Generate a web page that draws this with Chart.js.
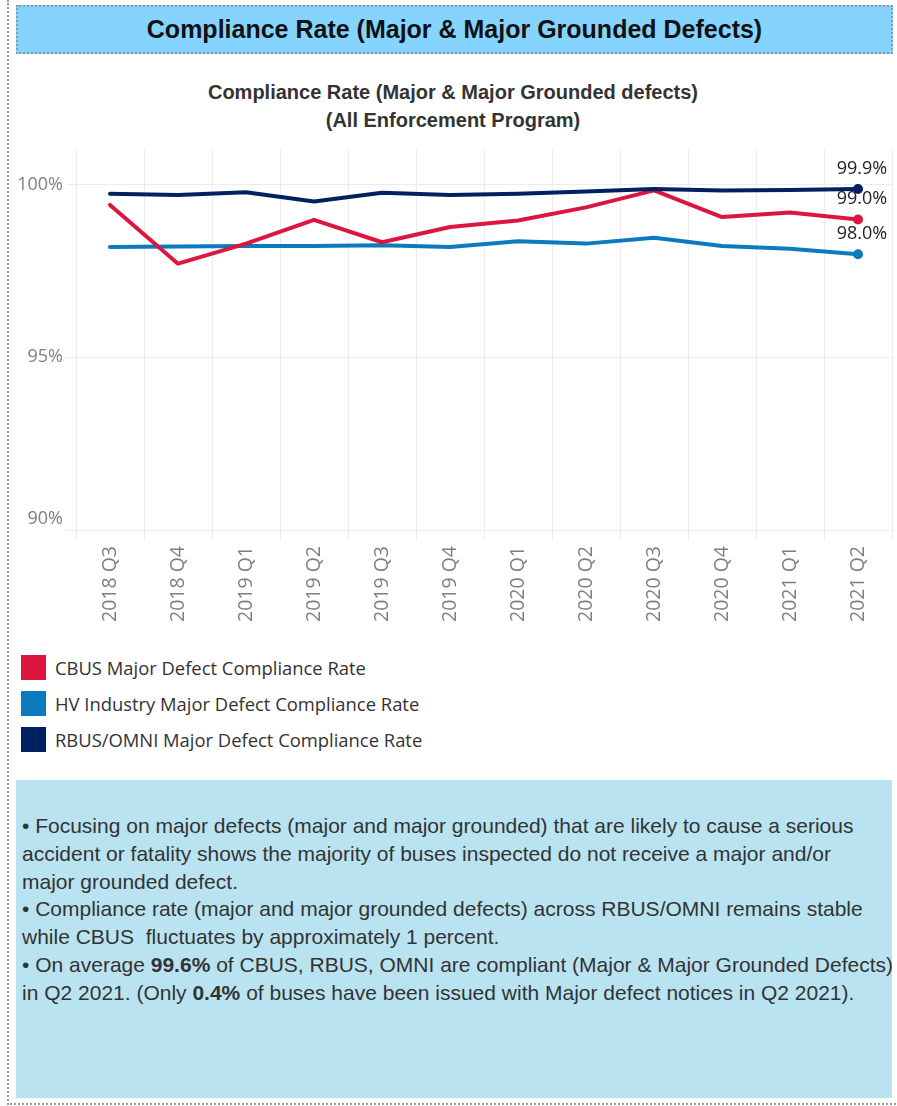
<!DOCTYPE html>
<html>
<head>
<meta charset="utf-8">
<script src="https://cdn.jsdelivr.net/npm/chart.js@4"></script>
<style>
  html, body { margin: 0; padding: 0; background: #fff; }
  body { width: 897px; height: 1106px; position: relative; overflow: hidden; }
  .frame {
    position: absolute; left: 7px; top: 0; width: 895px; height: 1103px;
    border-left: 2px dotted #9a9a9a; border-bottom: 2px dotted #9a9a9a;
  }
  .banner {
    position: absolute; left: 16px; top: 5px; width: 873px; height: 45px;
    background: #85d4ff; border: 2px dotted #8c9aa3;
    font: bold 25px "Liberation Sans Narrow", "Arial Narrow", sans-serif;
    color: #111; text-align: center; line-height: 45px;
  }
  .chart-title {
    position: absolute; left: 0; width: 906px; top: 78px;
    font: bold 20px "Liberation Sans Narrow", "Arial Narrow", sans-serif;
    color: #333; text-align: center; line-height: 28px;
  }
  .chart-box { position: absolute; left: 0; top: 140px; width: 897px; height: 500px; }
  .legend { position: absolute; left: 21px; top: 655px; }
  .legend-item { height: 36px; display: flex; align-items: flex-start; }
  .legend-item span.swatch { width: 25px; height: 25px; display: inline-block; }
  .legend-item span.label {
    margin-left: 9px; font: 18.4px "Open Sans", sans-serif; color: #333;
    line-height: 25px;
  }
  .notes {
    position: absolute; left: 16px; top: 780px; width: 876px; height: 318px;
    background: #b9e3f1; box-sizing: border-box; padding: 32px 0 0 6px;
    font: 21px "Liberation Sans Narrow", "Arial Narrow", sans-serif;
    color: #333; line-height: 27.8px; white-space: nowrap;
  }
</style>
</head>
<body>
<div class="frame"></div>
<div class="banner">Compliance Rate (Major &amp; Major Grounded Defects)</div>
<div class="chart-title">Compliance Rate (Major &amp; Major Grounded defects)<br>(All Enforcement Program)</div>
<div class="chart-box"><canvas id="compliance-chart" width="897" height="500"></canvas></div>
<div class="legend" id="legend"></div>
<div class="notes">
  • Focusing on major defects (major and major grounded) that are likely to cause a serious<br>
  accident or fatality shows the majority of buses inspected do not receive a major and/or<br>
  major grounded defect.<br>
  • Compliance rate (major and major grounded defects) across RBUS/OMNI remains stable<br>
  while CBUS&nbsp; fluctuates by approximately 1 percent.<br>
  • On average <b>99.6%</b> of CBUS, RBUS, OMNI are compliant (Major &amp; Major Grounded Defects)<br>
  in Q2 2021. (Only <b>0.4%</b> of buses have been issued with Major defect notices in Q2 2021).
</div>

<script>
const quarters = [
  "2018 Q3", "2018 Q4", "2019 Q1", "2019 Q2", "2019 Q3", "2019 Q4",
  "2020 Q1", "2020 Q2", "2020 Q3", "2020 Q4", "2021 Q1", "2021 Q2",
];
const cbusRate = [99.41, 97.71, 98.29, 98.98, 98.33, 98.77, 98.96, 99.34, 99.83, 99.06, 99.19, 98.99];
const hvIndustryRate = [98.19, 98.21, 98.22, 98.22, 98.24, 98.19, 98.36, 98.29, 98.46, 98.22, 98.14, 97.98];
const rbusOmniRate = [99.73, 99.70, 99.78, 99.51, 99.76, 99.70, 99.73, 99.80, 99.87, 99.83, 99.84, 99.87];
const yTicks = [90, 95, 100];

const seriesNames = [
  "CBUS Major Defect Compliance Rate",
  "HV Industry Major Defect Compliance Rate",
  "RBUS/OMNI Major Defect Compliance Rate",
];
const seriesColors = ["#dc163f", "#0b7bbd", "#00215f"];
const seriesData = [cbusRate, hvIndustryRate, rbusOmniRate];

const gridColor = "#ececec";
const tickColor = "#7f7f7f";

// label the last point of each line with its value
const endLabels = {
  id: "endLabels",
  afterDatasetsDraw(chart) {
    const ctx = chart.ctx;
    ctx.save();
    ctx.font = '18px "Open Sans", sans-serif';
    ctx.fillStyle = "#222";
    ctx.textAlign = "center";
    ctx.textBaseline = "alphabetic";
    chart.data.datasets.forEach((ds, i) => {
      const meta = chart.getDatasetMeta(i);
      const last = meta.data.length - 1;
      const pt = meta.data[last];
      ctx.fillText(ds.data[last].toFixed(1) + "%", pt.x + 4, pt.y - 15);
    });
    ctx.restore();
  },
};

const datasets = seriesNames.map((name, i) => ({
  label: name,
  data: seriesData[i],
  borderColor: seriesColors[i],
  backgroundColor: seriesColors[i],
  borderWidth: 4,
  borderCapStyle: "round",
  borderJoinStyle: "round",
  tension: 0,
  pointRadius: (c) => (c.dataIndex === quarters.length - 1 ? 5 : 0),
  pointBorderWidth: 0,
}));
// navy drawn on top, then red, then blue
datasets[0].order = 2;
datasets[1].order = 3;
datasets[2].order = 1;

new Chart(document.getElementById("compliance-chart"), {
  type: "line",
  data: { labels: quarters, datasets },
  options: {
    responsive: false,
    animation: false,
    events: [],
    layout: { padding: { top: 10, right: 5, left: 0, bottom: 0 } },
    plugins: { legend: { display: false }, tooltip: { enabled: false } },
    scales: {
      x: {
        offset: true,
        afterFit: (scale) => { scale.height = 110; },
        border: { color: gridColor },
        grid: { offset: true, color: gridColor, tickLength: 10 },
        ticks: {
          color: tickColor,
          font: { family: "Open Sans", size: 19.5 },
          minRotation: 90,
          maxRotation: 90,
          padding: 6,
        },
      },
      y: {
        min: 90,
        max: 101,
        afterFit: (scale) => {
          scale.width = 76;
          scale.paddingTop = 0;
        },
        afterBuildTicks: (scale) => { scale.ticks = yTicks.map((v) => ({ value: v })); },
        border: { color: gridColor },
        grid: { color: gridColor, tickLength: 9 },
        ticks: {
          color: tickColor,
          font: { family: "Open Sans", size: 18 },
          padding: 4,
          // bottom label sits above its gridline
          callback: (v) => (v === yTicks[0] ? [v + "%", ""] : v + "%"),
        },
      },
    },
  },
  plugins: [endLabels],
});

// legend rows built from the same names and colours
const legendEl = document.getElementById("legend");
seriesNames.forEach((name, i) => {
  const row = document.createElement("div");
  row.className = "legend-item";
  row.innerHTML = `<span class="swatch" style="background:${seriesColors[i]}"></span><span class="label">${name}</span>`;
  legendEl.appendChild(row);
});
</script>
</body>
</html>
